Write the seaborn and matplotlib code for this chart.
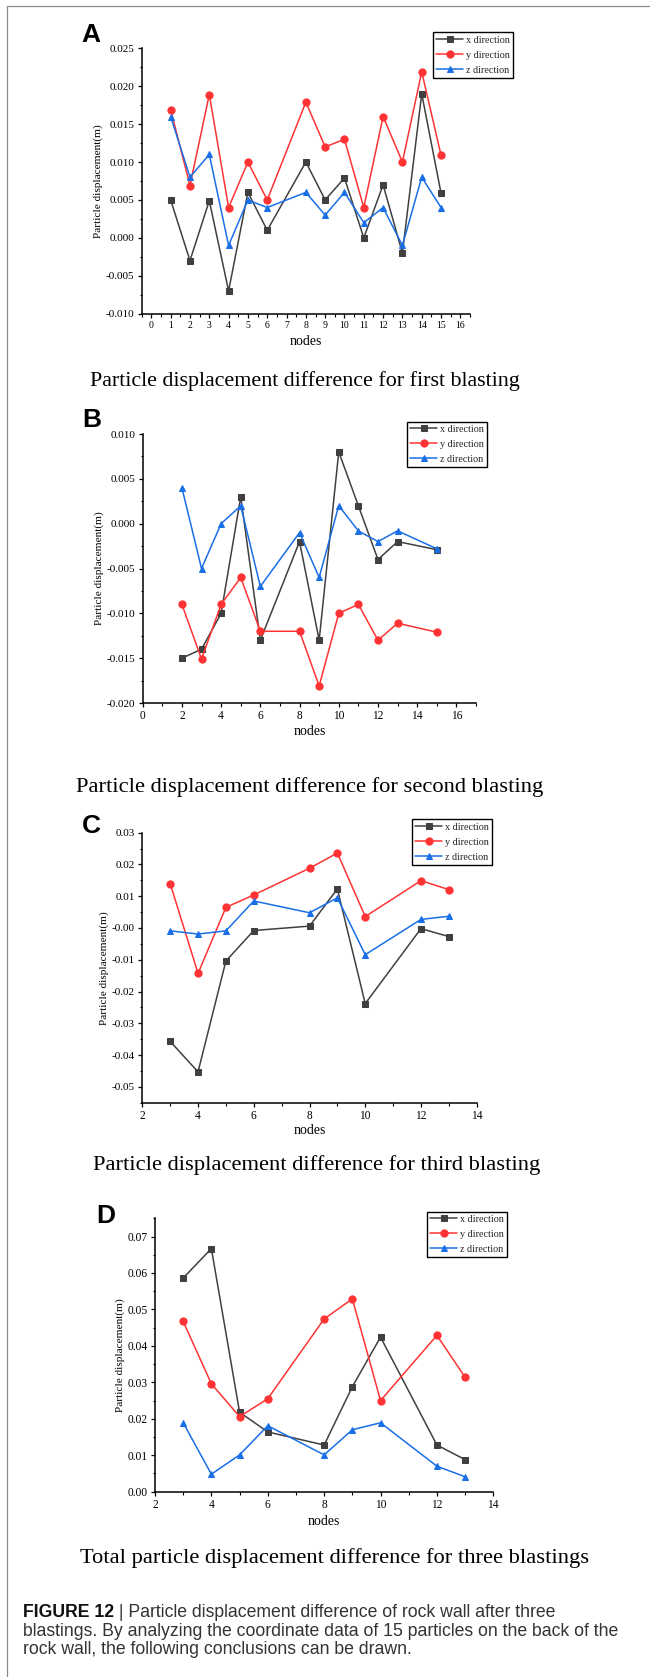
import numpy as np
import pandas as pd
import matplotlib
matplotlib.use("Agg")
import matplotlib.pyplot as plt
from matplotlib.ticker import MultipleLocator, FormatStrFormatter
from matplotlib.lines import Line2D
import seaborn as sns

# ---------------- data ----------------
nodes_a = [1, 2, 3, 4, 5, 6, 8, 9, 10, 11, 12, 13, 14, 15]
x_a = [0.005, -0.003, 0.0049, -0.007, 0.006, 0.001, 0.010, 0.005, 0.0079, 0.000, 0.007, -0.002, 0.019, 0.0059]
y_a = [0.0169, 0.0069, 0.0189, 0.004, 0.010, 0.005, 0.0179, 0.012, 0.013, 0.004, 0.016, 0.010, 0.0219, 0.0109]
z_a = [0.016, 0.008, 0.011, -0.001, 0.005, 0.004, 0.006, 0.003, 0.006, 0.002, 0.004, -0.001, 0.008, 0.004]

nodes_b = [2, 3, 4, 5, 6, 8, 9, 10, 11, 12, 13, 15]
x_b = [-0.015, -0.014, -0.010, 0.003, -0.013, -0.002, -0.013, 0.008, 0.002, -0.004, -0.002, -0.0029]
y_b = [-0.009, -0.0151, -0.009, -0.006, -0.012, -0.012, -0.0181, -0.010, -0.009, -0.013, -0.0111, -0.0121]
z_b = [0.004, -0.005, 0.000, 0.002, -0.007, -0.001, -0.006, 0.002, -0.0008, -0.002, -0.0008, -0.0028]

nodes_c = [3, 4, 5, 6, 8, 9, 10, 12, 13]
x_c = [-0.0357, -0.0453, -0.0104, -0.0008, 0.0006, 0.0123, -0.0238, -0.0002, -0.0027]
y_c = [0.0140, -0.0143, 0.0065, 0.0104, 0.0188, 0.0236, 0.0036, 0.0149, 0.0121]
z_c = [-0.0009, -0.0019, -0.0009, 0.0085, 0.0048, 0.0095, -0.0084, 0.0027, 0.0037]

nodes_d = [3, 4, 5, 6, 8, 9, 10, 12, 13]
x_d = [0.0586, 0.0667, 0.0218, 0.0164, 0.0128, 0.0288, 0.0424, 0.0128, 0.0088]
y_d = [0.0467, 0.0296, 0.0206, 0.0255, 0.0474, 0.0529, 0.0250, 0.0429, 0.0314]
z_d = [0.0189, 0.0048, 0.0101, 0.0181, 0.0101, 0.0170, 0.0189, 0.0070, 0.0041]

series_names = ["x direction", "y direction", "z direction"]
panel_letters = ["A", "B", "C", "D"]
panel_captions = [
    "Particle displacement difference for first blasting",
    "Particle displacement difference for second blasting",
    "Particle displacement difference for third blasting",
    "Total particle displacement difference for three blastings",
]
x_label = "nodes"
y_label = "Particle displacement(m)"
fig_caption_bold = "FIGURE 12"
fig_caption_lines = [
    " | Particle displacement difference of rock wall after three",
    "blastings. By analyzing the coordinate data of 15 particles on the back of the",
    "rock wall, the following conclusions can be drawn.",
]

# ---------------- style ----------------
sns.set_theme(style="ticks")
plt.rcParams["font.family"] = ["Liberation Serif", "DejaVu Serif"]
plt.rcParams["axes.linewidth"] = 1.0

W, H = 650, 1677
DPI = 100
fig = plt.figure(figsize=(W / DPI, H / DPI), dpi=DPI)
fig.patch.set_facecolor("white")

colors = ["#404040", "#ff3333", "#1a6fe6"]
markers = ["s", "o", "^"]
msizes = [4.6, 5.2, 5.0]


def rect(l, r, t, b):
    return [l / W, 1 - b / H, (r - l) / W, (b - t) / H]


panels = [
    dict(nodes=nodes_a, data=[x_a, y_a, z_a], rect=rect(141.7, 470, 48.3, 313.7),
         xlim=(-0.5, 16.5), ylim=(-0.010, 0.025), xmaj=1, xmin=0.5, ymaj=0.005, ymin=0.0025,
         yfmt="%.3f", xtfs=7.0, ytfs=8.0, leg=(432.7, 32.3), letter=(81.0, 41.7),
         ylx=97.7, xly=341.5, cap=(305, 381), capfs=15.8),
    dict(nodes=nodes_b, data=[x_b, y_b, z_b], rect=rect(142.7, 476, 434, 703),
         xlim=(0, 17), ylim=(-0.020, 0.010), xmaj=2, xmin=1, ymaj=0.005, ymin=0.0025,
         yfmt="%.3f", xtfs=8.3, ytfs=8.0, leg=(406.7, 421.7), letter=(82.0, 427),
         ylx=99, xly=731, cap=(310, 787), capfs=16.2),
    dict(nodes=nodes_c, data=[x_c, y_c, z_c], rect=rect(142.3, 476.7, 832.7, 1102.7),
         xlim=(2, 14), ylim=(-0.055, 0.03), xmaj=2, xmin=1, ymaj=0.01, ymin=0.005,
         yfmt="%.2f", xtfs=8.3, ytfs=8.0, leg=(411.7, 819.3), letter=(82.0, 833),
         ylx=104, xly=1131, cap=(317, 1165), capfs=16.2),
    dict(nodes=nodes_d, data=[x_d, y_d, z_d], rect=rect(155, 493.3, 1218.3, 1491.7),
         xlim=(2, 14), ylim=(0, 0.075), xmaj=2, xmin=1, ymaj=0.01, ymin=0.005,
         yfmt="%.2f", xtfs=8.3, ytfs=8.3, leg=(426.7, 1211.7), letter=(96.0, 1223),
         ylx=120.3, xly=1521.7, cap=(335, 1558), capfs=16.2),
]

for i, p in enumerate(panels):
    ax = fig.add_axes(p["rect"])
    for k in range(3):
        sns.lineplot(x=p["nodes"], y=p["data"][k], ax=ax, color=colors[k],
                     marker=markers[k], markersize=msizes[k], markeredgecolor=colors[k],
                     linewidth=1.1, label=series_names[k], sort=False)
    ax.set_xlim(*p["xlim"])
    ax.set_ylim(*p["ylim"])
    ax.xaxis.set_major_locator(MultipleLocator(p["xmaj"]))
    ax.xaxis.set_minor_locator(MultipleLocator(p["xmin"]))
    ax.yaxis.set_major_locator(MultipleLocator(p["ymaj"]))
    ax.yaxis.set_minor_locator(MultipleLocator(p["ymin"]))
    ax.yaxis.set_major_formatter(FormatStrFormatter(p["yfmt"]))
    ax.xaxis.set_major_formatter(FormatStrFormatter("%d"))
    ax.tick_params(which="major", direction="out", length=3.2, width=0.9, colors="black",
                   pad=2.0)
    ax.tick_params(which="minor", direction="out", length=1.8, width=0.8, colors="black")
    ax.tick_params(axis="x", labelsize=p["xtfs"])
    ax.tick_params(axis="y", labelsize=p["ytfs"])
    for s in ["top", "right"]:
        ax.spines[s].set_visible(False)
    for s in ["left", "bottom"]:
        ax.spines[s].set_color("black")
        ax.spines[s].set_linewidth(1.1)
    ax.set_facecolor("white")

    l, b, w, h = p["rect"]
    ax.set_xlabel(x_label, fontsize=10, color="black")
    ax.xaxis.label.set_va("center")
    ax.xaxis.set_label_coords(0.5, (1 - p["xly"] / H - b) / h)
    ax.set_ylabel(y_label, fontsize=8.1, color="black")
    ax.yaxis.label.set_va("center")
    ax.yaxis.set_label_coords((p["ylx"] / W - l) / w, 0.5)

    leg = ax.legend(loc="upper left", bbox_to_anchor=(p["leg"][0] / W, 1 - p["leg"][1] / H),
                    bbox_transform=fig.transFigure, borderaxespad=0, frameon=True,
                    fancybox=False, edgecolor="black", framealpha=1, fontsize=7.3,
                    handlelength=2.7, handletextpad=0.3, labelspacing=0.58,
                    borderpad=0.32)
    leg.get_frame().set_linewidth(1.0)

    fig.text(p["letter"][0] / W, 1 - p["letter"][1] / H, panel_letters[i],
             fontsize=19, fontweight="bold", family=["Liberation Sans", "DejaVu Sans"],
             ha="left", va="baseline", color="black")
    fig.text(p["cap"][0] / W, 1 - p["cap"][1] / H, panel_captions[i],
             fontsize=p["capfs"], ha="center", va="center", color="black")

# figure caption: fit the second line to the reference width
fig.canvas.draw()
renderer = fig.canvas.get_renderer()
cap_family = ["Liberation Sans", "DejaVu Sans"]
cap_x = 23 / W
target_w = 598.0
probe = fig.text(0, 0, fig_caption_lines[1], fontsize=12, family=cap_family)
pw = probe.get_window_extent(renderer=renderer).width
probe.remove()
cap_fs = 12 * target_w / pw
line_ys = [1612.5, 1631, 1649.5]
tb = fig.text(cap_x, 1 - line_ys[0] / H, fig_caption_bold, fontsize=cap_fs, fontweight="bold",
              family=cap_family, ha="left", va="center", color="#111111")
bb = tb.get_window_extent(renderer=renderer)
fig.text(bb.x1 / W, 1 - line_ys[0] / H, fig_caption_lines[0], fontsize=cap_fs,
         family=cap_family, ha="left", va="center", color="#333333")
for j in (1, 2):
    fig.text(cap_x, 1 - line_ys[j] / H, fig_caption_lines[j], fontsize=cap_fs,
             family=cap_family, ha="left", va="center", color="#333333")

# frame lines (top and left)
fig.add_artist(Line2D([7 / W, 1.0], [1 - 5.7 / H, 1 - 5.7 / H], transform=fig.transFigure,
                      color="#8c8c8c", linewidth=0.9))
fig.add_artist(Line2D([7 / W, 7 / W], [1 - 5.7 / H, 0.0], transform=fig.transFigure,
                      color="#8c8c8c", linewidth=0.9))

fig.savefig("out.png", dpi=DPI, facecolor="white")
